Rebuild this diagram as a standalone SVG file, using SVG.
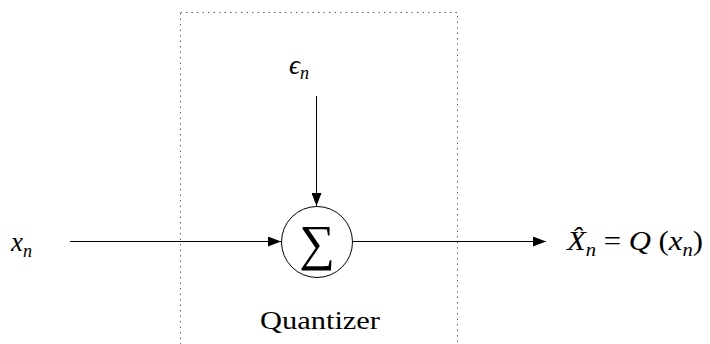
<svg xmlns="http://www.w3.org/2000/svg" width="710" height="344" viewBox="0 0 710 344">
<style>
.ln{stroke:#000;stroke-width:1;fill:none}
text{font-family:'Liberation Serif','DejaVu Serif',serif;fill:#000}
.m{font-style:italic;font-size:27px}
.s{font-size:18px}
.u{font-style:normal}
.r{font-size:25px}
</style>
<defs>
<marker id="ah" markerWidth="14" markerHeight="10" refX="13" refY="5" orient="auto" markerUnits="userSpaceOnUse">
<path d="M0,0 L13,5 L0,10 Z" fill="#000"/>
</marker>
</defs>
<g id="quantizer-box">
<rect x="180.5" y="12.5" width="277" height="340" fill="none" stroke="#666" stroke-width="1" stroke-dasharray="1.5 4"/>
<text class="r" x="260" y="329" textLength="120" lengthAdjust="spacingAndGlyphs">Quantizer</text>
</g>
<g id="input">
<text class="m" x="11" y="251">x<tspan class="s" dy="6">n</tspan></text>
</g>
<g id="noise">
<text class="m" x="289" y="74">ϵ<tspan class="s" dy="5">n</tspan></text>
</g>
<g id="sum">
<circle cx="317" cy="242" r="35.5" fill="#fff" stroke="#000" stroke-width="1"/>
<text x="317" y="260" text-anchor="middle" font-size="50">∑</text>
</g>
<g id="output">
<text class="m" x="567" y="250" textLength="136" lengthAdjust="spacingAndGlyphs">X̂<tspan class="s" dy="6">n</tspan><tspan class="u" dy="-6"> = </tspan>Q<tspan class="u"> (</tspan>x<tspan class="s" dy="6">n</tspan><tspan class="u" dy="-6">)</tspan></text>
</g>
<g id="connectors">
<line class="ln" x1="70" y1="241.5" x2="281" y2="241.5" marker-end="url(#ah)"/>
<line class="ln" x1="316.5" y1="96" x2="316.5" y2="206" marker-end="url(#ah)"/>
<line class="ln" x1="353" y1="241.5" x2="546" y2="241.5" marker-end="url(#ah)"/>
</g>
</svg>
